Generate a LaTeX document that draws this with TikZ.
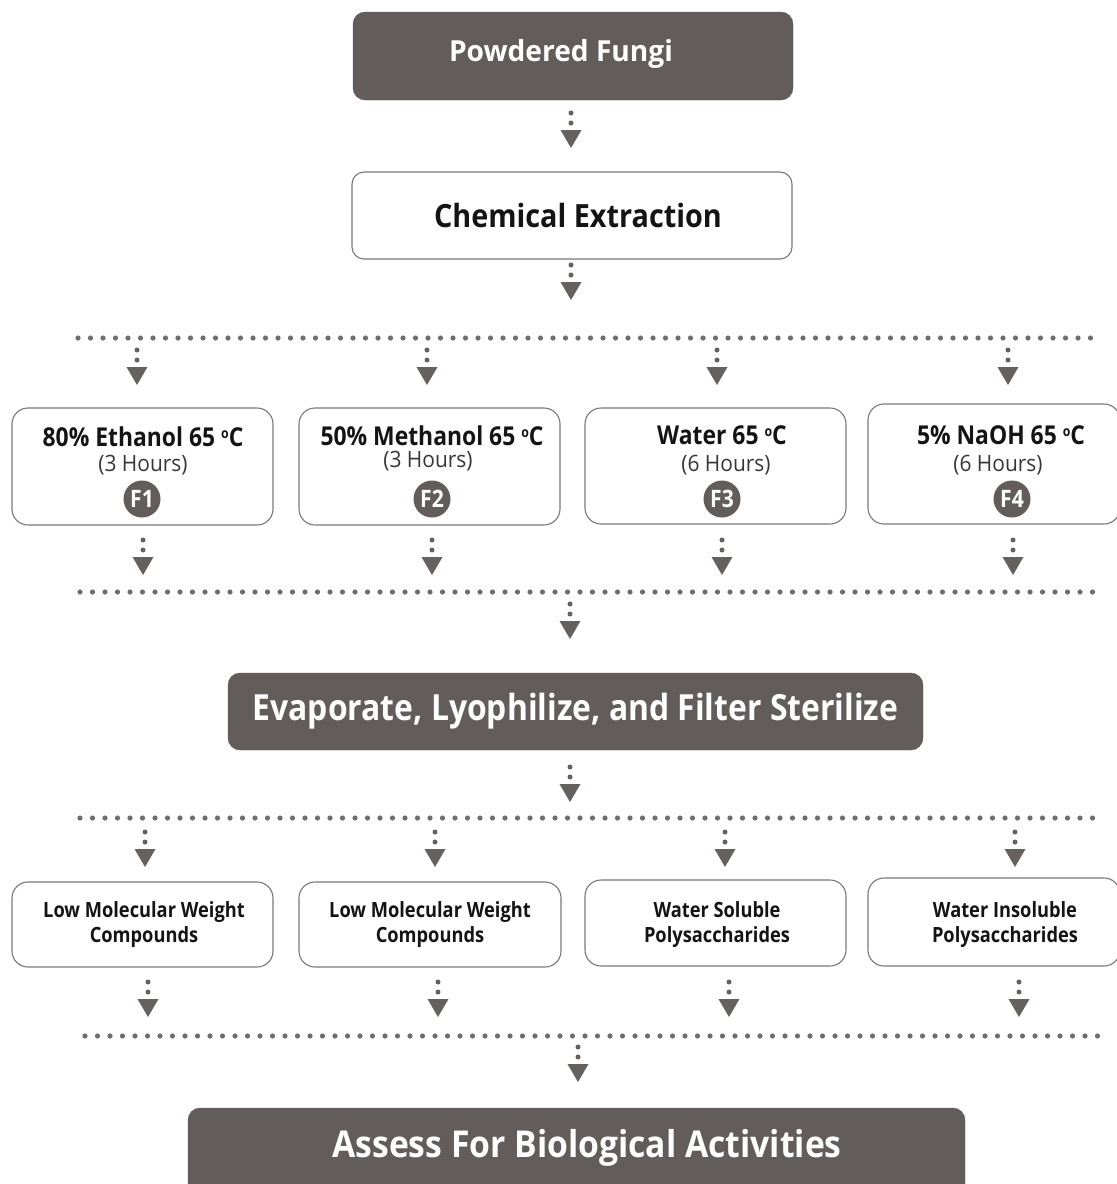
\documentclass[tikz,border=0pt]{standalone}
\usepackage{fontspec}
\setmainfont{Open Sans}
\newfontfamily\fpf[FakeStretch=0.97]{Open Sans}
\newfontfamily\fce[FakeStretch=0.9]{Open Sans}
\newfontfamily\fev[FakeStretch=0.885]{Open Sans}
\newfontfamily\fab[FakeStretch=0.91]{Open Sans}
\newfontfamily\fti[FakeStretch=0.88]{Open Sans}
\newfontfamily\fho[FakeStretch=0.93]{Open Sans}
\newfontfamily\fct[FakeStretch=0.87]{Open Sans}
\usetikzlibrary{calc}
\definecolor{boxdark}{RGB}{98,93,90}
\definecolor{arrowgray}{RGB}{100,97,95}
\definecolor{dotgray}{RGB}{112,110,108}
\definecolor{bordergray}{RGB}{120,120,120}
\definecolor{txt}{RGB}{20,20,20}
\definecolor{txtreg}{RGB}{55,55,55}
\newcommand\fs[2]{\fontsize{#1}{#2}\selectfont}
\newcommand\degO{\raisebox{8pt}{\fs{14}{14}o}}
\newcommand\darrow[1]{%
  \fill[arrowgray] ($(#1)$) circle (2.5pt);
  \fill[arrowgray] ($(#1)+(0,10)$) circle (2.5pt);
  \fill[arrowgray] ($(#1)+(-10.5,17)$) -- ($(#1)+(10.5,17)$) -- ($(#1)+(0,35)$) -- cycle;}
\begin{document}
\begin{tikzpicture}[x=1pt,y=-1pt,
  darkbox/.style={rectangle, rounded corners=12pt, fill=boxdark, draw=boxdark, text=white, inner sep=0pt},
  lightbox/.style={rectangle, rounded corners=16pt, fill=white, draw=bordergray, line width=1.1pt, inner sep=0pt},
  ftitle/.style={text=txt, font=\fti\bfseries\fs{26}{26}, inner sep=0pt},
  fhours/.style={text=txtreg, font=\fho\fs{22.5}{22.5}, inner sep=0pt},
  fcirc/.style={circle, fill=boxdark, text=white, minimum size=37pt, inner sep=0pt, font=\fti\bfseries\fs{24}{24}},
  ctext/.style={text=txt, font=\fct\bfseries\fs{21}{25}, align=center, inner sep=0pt},
  busline/.style={dotgray, line width=5.2pt, line cap=round, dash pattern=on 0pt off 12.5pt}
]
\useasboundingbox (0,0) rectangle (1117,1184);
\fill[white] (0,0) rectangle (1117,1184);

% top boxes
\node[darkbox, minimum width=440pt, minimum height=88pt] (pf) at (573,56) {};
\node[text=white, font=\fpf\bfseries\fs{29}{29}, inner sep=0pt] (pft) at (561,54) {Powdered Fungi};
\node[lightbox, rounded corners=12pt, minimum width=440pt, minimum height=87pt] (ce) at (572,215.5) {};
\node[text=txt, font=\fce\bfseries\fs{32}{32}, inner sep=0pt] (cet) at (578,215) {Chemical Extraction};

\coordinate (a1) at (571,113);
\coordinate (a2) at (571,265);
\darrow{a1}
\darrow{a2}

% bus 1
\coordinate (b1l) at (78,338);
\coordinate (b1r) at (1090.5,338);
\draw[busline] (b1l) -- (b1r);
\coordinate (u1) at (137,350);
\coordinate (u2) at (427,350);
\coordinate (u3) at (717,350);
\coordinate (u4) at (1008,350);
\foreach \c in {u1,u2,u3,u4} {\darrow{\c}}

% F boxes
\node[lightbox, minimum width=261pt, minimum height=117pt] (F1) at (142.5,466.5) {};
\node[lightbox, minimum width=261pt, minimum height=117pt] (F2) at (429.5,466.5) {};
\node[lightbox, minimum width=261pt, minimum height=116pt] (F3) at (715.5,466) {};
\node[lightbox, minimum width=252pt, minimum height=120pt] (F4) at (994,464) {};

\node[ftitle] (t1) at (143,437) {80\% Ethanol 65 \degO C};
\node[fhours] (h1) at (143,465) {(3 Hours)};
\node[fcirc] (c1) at (142,499) {F1};

\node[ftitle] (t2) at (432,436) {50\% Methanol 65 \degO C};
\node[fhours] (h2) at (428,461) {(3 Hours)};
\node[fcirc] (c2) at (432,499) {F2};

\node[ftitle] (t3) at (722,435) {Water 65 \degO C};
\node[fhours] (h3) at (726,465) {(6 Hours)};
\node[fcirc] (c3) at (722,499) {F3};

\node[ftitle] (t4) at (1001,435) {5\% NaOH 65 \degO C};
\node[fhours] (h4) at (998,465) {(6 Hours)};
\node[fcirc] (c4) at (1012,499) {F4};

\coordinate (d1) at (143,540);
\coordinate (d2) at (432,540);
\coordinate (d3) at (722,540);
\coordinate (d4) at (1013,540);
\foreach \c in {d1,d2,d3,d4} {\darrow{\c}}

% bus 2
\coordinate (b2l) at (80,592);
\coordinate (b2r) at (1092.5,592);
\draw[busline] (b2l) -- (b2r);
\coordinate (a3) at (570,604);
\darrow{a3}

\node[darkbox, minimum width=695pt, minimum height=77pt, font=\fev\bfseries\fs{36}{36}] (ev) at (575.5,711.5) {Evaporate, Lyophilize, and Filter Sterilize};

\coordinate (a4) at (570,767);
\darrow{a4}

% bus 3
\coordinate (b3l) at (80,818);
\coordinate (b3r) at (1092.5,818);
\draw[busline] (b3l) -- (b3r);
\coordinate (v1) at (145,832);
\coordinate (v2) at (435,832);
\coordinate (v3) at (725,832);
\coordinate (v4) at (1015,832);
\foreach \c in {v1,v2,v3,v4} {\darrow{\c}}

\node[lightbox, minimum width=261pt, minimum height=85pt] (L1) at (142.5,924.5) {};
\node[lightbox, minimum width=262pt, minimum height=85pt] (L2) at (430,924.5) {};
\node[lightbox, minimum width=261pt, minimum height=86pt] (L3) at (715.5,923) {};
\node[lightbox, minimum width=252pt, minimum height=88pt] (L4) at (994,922) {};
\node[ctext] (l1t) at (144,925) {Low Molecular Weight\\Compounds};
\node[ctext] (l2t) at (430,925) {Low Molecular Weight\\Compounds};
\node[ctext] (l3t) at (717,924.5) {Water Soluble\\Polysaccharides};
\node[ctext] (l4t) at (1005,924.5) {Water Insoluble\\Polysaccharides};

\coordinate (w1) at (148,982);
\coordinate (w2) at (438,982);
\coordinate (w3) at (729,982);
\coordinate (w4) at (1019,982);
\foreach \c in {w1,w2,w3,w4} {\darrow{\c}}

% bus 4
\coordinate (b4l) at (85,1036);
\coordinate (b4r) at (1097.5,1036);
\draw[busline] (b4l) -- (b4r);
\coordinate (a5) at (578,1047);
\darrow{a5}

\node[darkbox, minimum width=777pt, minimum height=90pt] (ab) at (576.5,1153) {};
\node[text=white, font=\fab\bfseries\fs{37}{37}, inner sep=0pt] (abt) at (587,1148) {Assess For Biological Activities};
\end{tikzpicture}
\end{document}
